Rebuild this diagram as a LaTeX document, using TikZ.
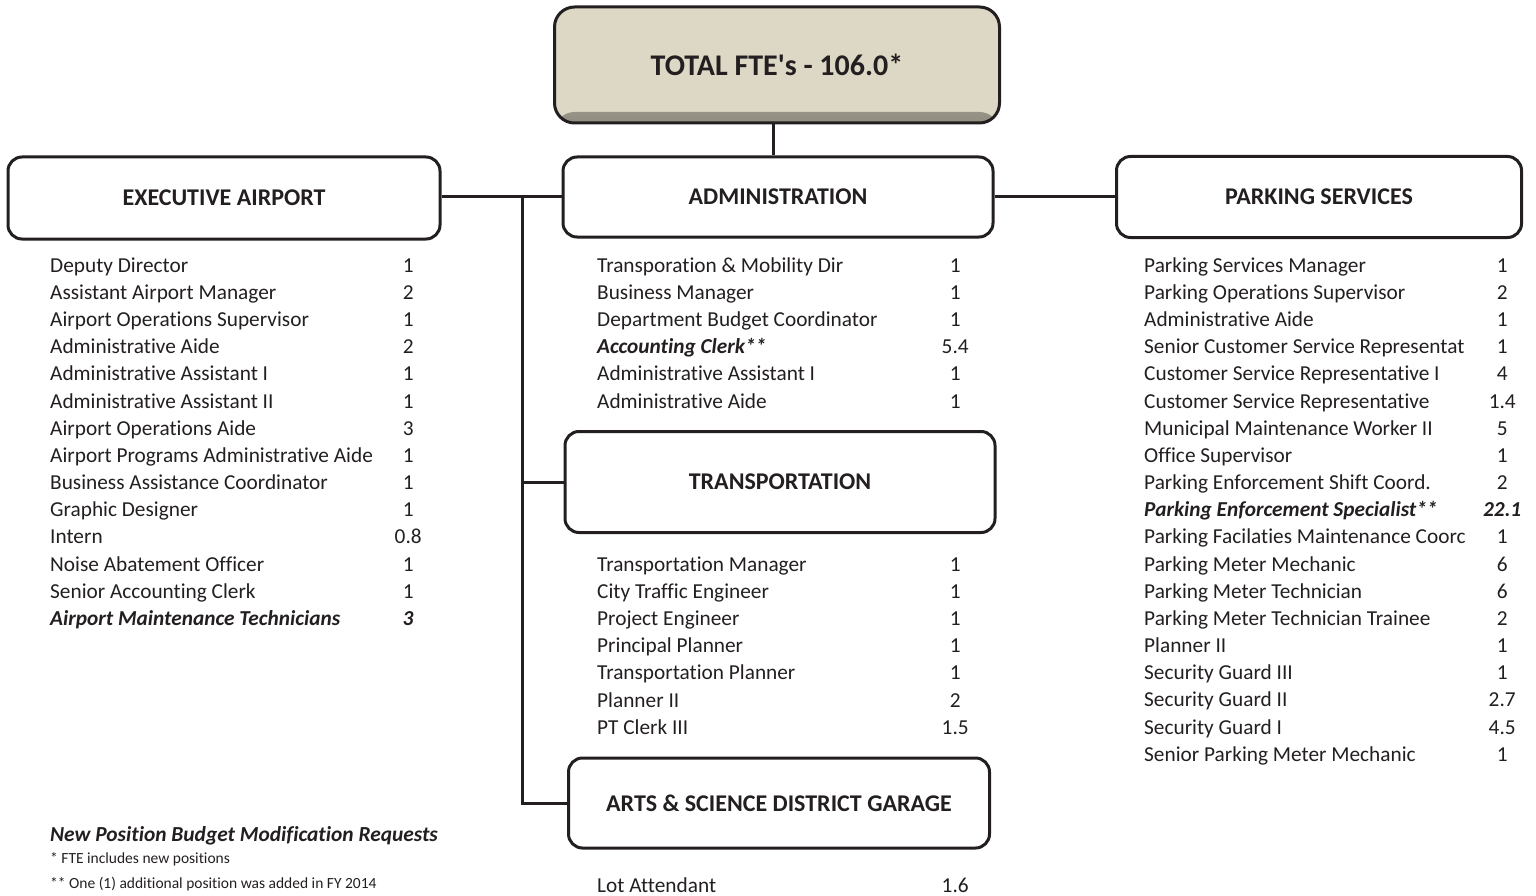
\documentclass[tikz,border=0pt]{standalone}
\usepackage{fontspec}
\setmainfont{Carlito}[Ligatures={TeX,NoCommon}]
\usepackage{array}
\usetikzlibrary{positioning}

\definecolor{ink}{HTML}{231F20}
\definecolor{khaki}{HTML}{DCD8C5}
% centred column for the FTE counts
\newcolumntype{N}{>{\centering\arraybackslash}p{56pt}}
\newcommand{\newpos}[1]{\textbf{\textit{#1}}}

\begin{document}
\begin{tikzpicture}[
    x=1pt, y=-1pt,
    unit/.style={draw=ink, line width=3pt, rounded corners=14pt, fill=white, text=ink, font=\fontsize{24}{28}\selectfont\bfseries},
    total/.style={unit, fill=khaki, rounded corners=20pt, minimum width=445pt, minimum height=116pt, font=\fontsize{30}{34}\selectfont\bfseries,
                  path picture={\shade[top color=khaki, bottom color=khaki!65!black]
                      ([yshift=11pt]path picture bounding box.south west) rectangle (path picture bounding box.south east);}},
    roster/.style={anchor=north west, inner sep=0pt, text=ink, font=\fontsize{21.3}{27.17}\selectfont},
    note/.style={anchor=west, inner sep=0pt, text=ink},
    link/.style={draw=ink, line width=3pt}
]
\useasboundingbox (0,0) rectangle (1536,896);

% boxes
\node[total] (total) at (777,65) {TOTAL FTE\textquotesingle s - 106.0*};
\node[unit, minimum width=430pt, minimum height=80pt] (admin) at (778,197) {ADMINISTRATION};
\node[unit, minimum width=432pt, minimum height=82pt] (exec) at (224,198) {EXECUTIVE AIRPORT};
\node[unit, minimum width=405pt, minimum height=81pt] (park) at (1319,197) {PARKING SERVICES};
\node[unit, minimum width=430pt, minimum height=101pt] (trans) at (780,482) {TRANSPORTATION};
\node[unit, minimum width=421pt, minimum height=90pt] (arts) at (779,803) {ARTS \& SCIENCE DISTRICT GARAGE};

% connectors
\coordinate (trunk) at (522,197);
\draw[link] ([xshift=-4pt]total.south) -- ([xshift=-5pt]admin.north);
\draw[link] (exec.east |- admin.west) -- (admin.west);
\draw[link] (admin.east) -- (park.west |- admin.east);
\draw[link] (trunk) |- (arts.west);
\draw[link] (trunk |- trans.west) -- (trans.west);

% position lists
\node[roster] (execlist) at (50,253) {\begin{tabular}{@{}p{330pt}@{}N@{}}
Deputy Director & 1\\
Assistant Airport Manager & 2\\
Airport Operations Supervisor & 1\\
Administrative Aide & 2\\
Administrative Assistant I & 1\\
Administrative Assistant II & 1\\
Airport Operations Aide & 3\\
Airport Programs Administrative Aide & 1\\
Business Assistance Coordinator & 1\\
Graphic Designer & 1\\
Intern & 0.8\\
Noise Abatement Officer & 1\\
Senior Accounting Clerk & 1\\
\newpos{Airport Maintenance Technicians} & \newpos{3}
\end{tabular}};

\node[roster] (adminlist) at (597,253) {\begin{tabular}{@{}p{330pt}@{}N@{}}
Transporation \& Mobility Dir & 1\\
Business Manager & 1\\
Department Budget Coordinator & 1\\
\newpos{Accounting Clerk**} & 5.4\\
Administrative Assistant I & 1\\
Administrative Aide & 1
\end{tabular}};

\node[roster] (translist) at (597,552) {\begin{tabular}{@{}p{330pt}@{}N@{}}
Transportation Manager & 1\\
City Traffic Engineer & 1\\
Project Engineer & 1\\
Principal Planner & 1\\
Transportation Planner & 1\\
Planner II & 2\\
PT Clerk III & 1.5
\end{tabular}};

\node[roster] (artslist) at (597,873) {\begin{tabular}{@{}p{330pt}@{}N@{}}
Lot Attendant & 1.6
\end{tabular}};

\node[roster] (parklist) at (1144,253) {\begin{tabular}{@{}p{330pt}@{}N@{}}
Parking Services Manager & 1\\
Parking Operations Supervisor & 2\\
Administrative Aide & 1\\
Senior Customer Service Representat & 1\\
Customer Service Representative I & 4\\
Customer Service Representative & 1.4\\
Municipal Maintenance Worker II & 5\\
Office Supervisor & 1\\
Parking Enforcement Shift Coord. & 2\\
\newpos{Parking Enforcement Specialist**} & \newpos{22.1}\\
Parking Facilaties Maintenance Coorc & 1\\
Parking Meter Mechanic & 6\\
Parking Meter Technician & 6\\
Parking Meter Technician Trainee & 2\\
Planner II & 1\\
Security Guard III & 1\\
Security Guard II & 2.7\\
Security Guard I & 4.5\\
Senior Parking Meter Mechanic & 1
\end{tabular}};

% footnotes
\node[note, font=\fontsize{21.4}{24}\selectfont\bfseries\itshape] (notehead) at (50,836) {New Position Budget Modification Requests};
\node[note, font=\fontsize{15.5}{18}\selectfont] (noteone) at (50,859) {* FTE includes new positions};
\node[note, font=\fontsize{15.5}{18}\selectfont] (notetwo) at (50,884) {** One (1) additional position was added in FY 2014};
\end{tikzpicture}
\end{document}
